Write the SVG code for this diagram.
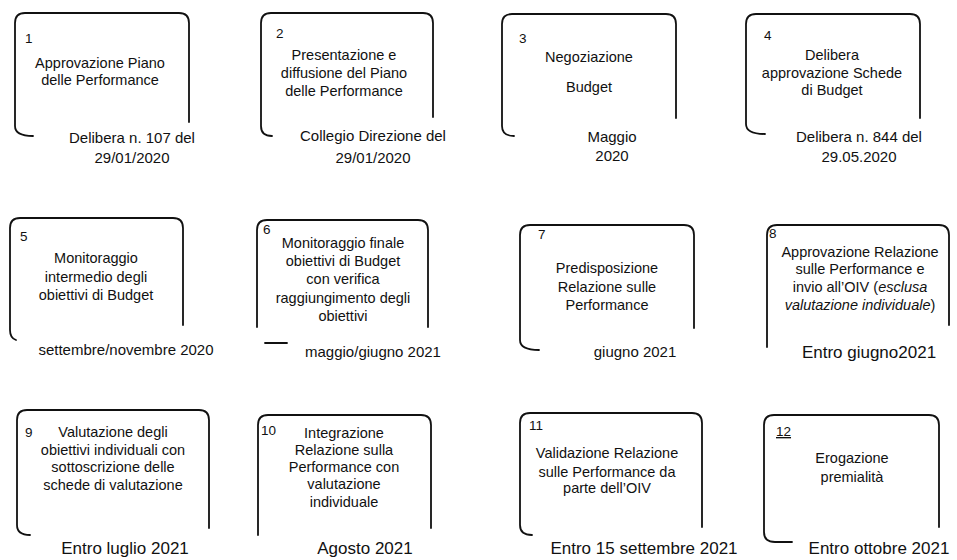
<svg xmlns="http://www.w3.org/2000/svg" width="957" height="560" viewBox="0 0 957 560">
<style>
.b{fill:none;stroke:#111;stroke-width:1.8;stroke-linecap:round;stroke-linejoin:round}
.t{font-family:"Liberation Sans",Arial,sans-serif;font-size:14.5px;fill:#111;text-anchor:middle}
.l{font-family:"Liberation Sans",Arial,sans-serif;font-size:15px;fill:#111;text-anchor:middle}
.L{font-family:"Liberation Sans",Arial,sans-serif;font-size:17px;fill:#111;text-anchor:middle}
.n{font-family:"Liberation Sans",Arial,sans-serif;font-size:13.5px;fill:#111}
</style>
<rect width="957" height="560" fill="#fff"/>
<g id="n1">
<path class="b" d="M33 136 Q15 136 15 126 L15 23 Q15 13 25 13 L179 13 Q189 13 189 23 L189 122"/>
<text class="n" x="25" y="43">1</text>
<text class="t" x="100" y="68">Approvazione Piano</text>
<text class="t" x="100" y="85">delle Performance</text>
<text class="l" x="132" y="143">Delibera n. 107 del</text>
<text class="l" x="132" y="163">29/01/2020</text>
</g>
<g id="n2">
<path class="b" d="M272 136 Q261 136 261 126 L261 23 Q261 13 271 13 L423 13 Q433 13 433 23 L433 117"/>
<text class="n" x="276" y="38">2</text>
<text class="t" x="344" y="60">Presentazione e</text>
<text class="t" x="344" y="78">diffusione del Piano</text>
<text class="t" x="344" y="96">delle Performance</text>
<text class="l" x="373" y="141">Collegio Direzione del</text>
<text class="l" x="373" y="163">29/01/2020</text>
</g>
<g id="n3">
<path class="b" d="M514 136 Q502 136 502 126 L502 24 Q502 14 512 14 L666 14 Q676 14 676 24 L676 118"/>
<text class="n" x="519" y="43">3</text>
<text class="t" x="589" y="62">Negoziazione</text>
<text class="t" x="589" y="92">Budget</text>
<text class="l" x="612" y="142">Maggio</text>
<text class="l" x="612" y="161">2020</text>
</g>
<g id="n4">
<path class="b" d="M765 134 Q746 134 746 124 L746 24 Q746 14 756 14 L910 14 Q920 14 920 24 L920 118"/>
<text class="n" x="764" y="40">4</text>
<text class="t" x="832" y="60">Delibera</text>
<text class="t" x="832" y="78">approvazione Schede</text>
<text class="t" x="832" y="95">di Budget</text>
<text class="l" x="859" y="142">Delibera n. 844 del</text>
<text class="l" x="859" y="162">29.05.2020</text>
</g>
<g id="n5">
<path class="b" d="M16 340 Q10 338 10 330 L10 228 Q10 218 20 218 L173 218 Q183 218 183 228 L183 325"/>
<text class="n" x="20" y="241">5</text>
<text class="t" x="96" y="263">Monitoraggio</text>
<text class="t" x="96" y="282">intermedio degli</text>
<text class="t" x="96" y="300">obiettivi di Budget</text>
<text class="l" x="126" y="355">settembre/novembre  2020</text>
</g>
<g id="n6">
<path class="b" d="M257 327 L257 230 Q257 220 267 220 L418 220 Q428 220 428 230 L428 327"/>
<path class="b" d="M265 343 L287 343"/>
<text class="n" x="263" y="234">6</text>
<text class="t" x="343" y="248">Monitoraggio finale</text>
<text class="t" x="343" y="266">obiettivi di Budget</text>
<text class="t" x="343" y="284">con verifica</text>
<text class="t" x="343" y="303">raggiungimento degli</text>
<text class="t" x="343" y="321">obiettivi</text>
<text class="l" x="373" y="357">maggio/giugno 2021</text>
</g>
<g id="n7">
<path class="b" d="M539 350 Q520 350 520 340 L520 235 Q520 225 530 225 L684 225 Q694 225 694 235 L694 328"/>
<text class="n" x="538" y="239">7</text>
<text class="t" x="607" y="273">Predisposizione</text>
<text class="t" x="607" y="292">Relazione sulle</text>
<text class="t" x="607" y="310">Performance</text>
<text class="l" x="635" y="357">giugno 2021</text>
</g>
<g id="n8">
<path class="b" d="M767 347 L767 235 Q767 225 777 225 L939 225 Q949 225 949 235 L949 325"/>
<text class="n" x="769" y="238">8</text>
<text class="t" x="860" y="257">Approvazione Relazione</text>
<text class="t" x="860" y="274">sulle Performance e</text>
<text class="t" x="860" y="292">invio all’OIV (<tspan font-style="italic">esclusa</tspan></text>
<text class="t" x="860" y="310"><tspan font-style="italic">valutazione individuale</tspan>)</text>
<text class="L" x="869" y="358">Entro giugno2021</text>
</g>
<g id="n9">
<path class="b" d="M30 535 Q17 535 17 525 L17 420 Q17 410 27 410 L199 410 Q209 410 209 420 L209 528"/>
<text class="n" x="25" y="437">9</text>
<text class="t" x="113" y="437">Valutazione degli</text>
<text class="t" x="113" y="455">obiettivi individuali con</text>
<text class="t" x="113" y="472">sottoscrizione delle</text>
<text class="t" x="113" y="490">schede di valutazione</text>
<text class="L" x="125" y="554">Entro luglio  2021</text>
</g>
<g id="n10">
<path class="b" d="M258 535 L258 425 Q258 415 268 415 L421 415 Q431 415 431 425 L431 528"/>
<text class="n" x="261" y="435">10</text>
<text class="t" x="344" y="438">Integrazione</text>
<text class="t" x="344" y="455">Relazione sulla</text>
<text class="t" x="344" y="472">Performance con</text>
<text class="t" x="344" y="489">valutazione</text>
<text class="t" x="344" y="507">individuale</text>
<text class="L" x="365" y="554">Agosto  2021</text>
</g>
<g id="n11">
<path class="b" d="M532 535 Q520 535 520 525 L520 423 Q520 413 530 413 L692 413 Q702 413 702 423 L702 527"/>
<text class="n" x="529" y="430">11</text>
<text class="t" x="607" y="458">Validazione Relazione</text>
<text class="t" x="607" y="477">sulle Performance da</text>
<text class="t" x="607" y="493">parte dell’OIV</text>
<text class="L" x="644" y="554">Entro 15 settembre 2021</text>
</g>
<g id="n12">
<path class="b" d="M792 542 L775 542 Q764 542 764 532 L764 425 Q764 415 774 415 L929 415 Q939 415 939 425 L939 527"/>
<text class="n" x="776" y="436" text-decoration="underline">12</text>
<text class="t" x="852" y="463">Erogazione</text>
<text class="t" x="852" y="482">premialità</text>
<text class="L" x="879" y="554">Entro  ottobre 2021</text>
</g>
<g id="connectors"></g>
</svg>
